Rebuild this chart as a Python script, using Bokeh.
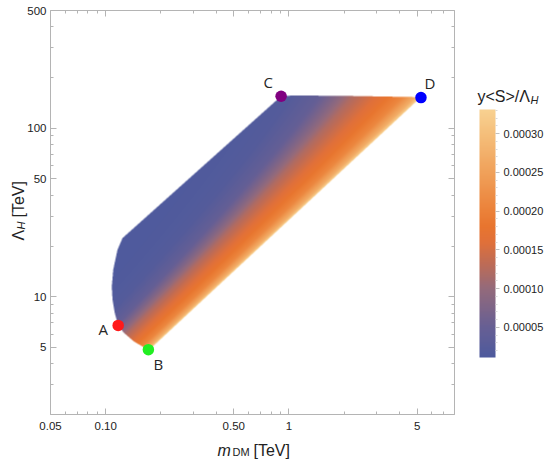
import numpy as np
from bokeh.plotting import figure
from bokeh.models import (LogAxis, FixedTicker, CustomJSTickFormatter, ColorBar, GridBox, Range1d,
                          LinearColorMapper, PrintfTickFormatter, ColumnDataSource)
from bokeh.core.properties import value
from bokeh.embed import file_html
from bokeh.resources import INLINE

# ---------------- data ----------------
x_lo, x_hi = 0.05, 8.0
y_lo, y_hi = 2.0, 500.0
x_major = [0.05, 0.1, 0.5, 1, 5]
x_minor = [0.06, 0.07, 0.08, 0.09, 0.2, 0.3, 0.4, 0.6, 0.7, 0.8, 0.9, 2, 3, 4, 6, 7, 8]
y_major = [5, 10, 50, 100, 500]
y_minor = [2, 3, 4, 6, 7, 8, 9, 20, 30, 40, 60, 70, 80, 90, 200, 300, 400]

cb_ticks = [0.00005, 0.00010, 0.00015, 0.00020, 0.00025, 0.00030]
cb_minor = [0.00002, 0.00003, 0.00004, 0.00006, 0.00007, 0.00008, 0.00009,
            0.00011, 0.00012, 0.00013, 0.00014, 0.00016, 0.00017, 0.00018, 0.00019,
            0.00021, 0.00022, 0.00023, 0.00024, 0.00026, 0.00027, 0.00028, 0.00029,
            0.00031, 0.00032, 0.00033]
value_low, value_high = 1.13e-5, 3.31e-4

# boundary of the allowed region (m_DM [TeV], Lambda_H [TeV]), C -> D -> B -> A -> back
region_m = [0.906, 1.06, 2.17, 5.25, 0.172, 0.1425, 0.1256, 0.117, 0.112, 0.109, 0.108, 0.110, 0.116, 0.1236]
region_lam = [155.0, 156.6, 155.5, 153.0, 4.81, 5.43, 6.11, 6.76, 8.04, 9.6, 11.5, 14.5, 19.0, 22.3]
edge_from, edge_to = 3, 4  # lower-right edge D -> B

# colour value vs. distance (decades in m_DM) from the lower-right edge, read near the top
profile_dist = [0.0, 0.03, 0.10, 0.18, 0.28, 0.38, 0.47, 0.56, 0.72, 1.0]
profile_value = [3.3e-4, 2.7e-4, 2.1e-4, 1.8e-4, 1.5e-4, 1.2e-4, 0.8e-4, 0.45e-4, 0.2e-4, 1.2e-5]
# the gradient is compressed towards the bottom of the region
steep_lam = [4.8, 153.0]
steep_factor = [1.8, 1.0]

point_names = ["A", "B", "C", "D"]
point_m = [0.117, 0.171, 0.906, 5.25]
point_lam = [6.76, 4.85, 155.0, 152.0]
point_colors = ["#ff1a1a", "#22ee22", "#800080", "#0000ff"]

# ---------------- styles ----------------
W, H = 554, 459
label_dx = [-15, 10, -13, 9]
label_dy = [4, 14, -14, -15]
frame_col = "#b4b4b4"
txt_col = "#222222"
FONT = "Liberation Sans"

stops = [(0.000, "#4e5a9d"), (0.121, "#675f94"), (0.277, "#946a7b"), (0.371, "#bb6b58"),
         (0.465, "#e0703a"), (0.528, "#e8752f"), (0.590, "#eb8139"), (0.747, "#f0a15a"),
         (0.903, "#f5bf7b"), (1.000, "#f8d191")]


def hex2rgb(h):
    return np.array([int(h[i:i + 2], 16) for i in (1, 3, 5)], float)


sf = np.array([s[0] for s in stops])
sc = np.array([hex2rgb(s[1]) for s in stops])
pal_rgb = np.array([[np.interp(tt, sf, sc[:, k]) for k in range(3)] for tt in np.linspace(0, 1, 256)])
palette = ["#%02x%02x%02x" % tuple(int(round(c)) for c in rgb) for rgb in pal_rgb]

# ---------------- field on the log grid ----------------
nx, ny, ss = 404, 404, 3
lx0, lx1 = np.log10(x_lo), np.log10(x_hi)
ly0, ly1 = np.log10(y_lo), np.log10(y_hi)
px = np.log10(region_m)
py = np.log10(region_lam)


def inside_poly(LX, LY):
    res = np.zeros(LX.shape, bool)
    n = len(px)
    j = n - 1
    for i in range(n):
        xi, yi, xj, yj = px[i], py[i], px[j], py[j]
        dy = (yj - yi) if yj != yi else 1e-12
        res ^= ((yi > LY) != (yj > LY)) & (LX < (xj - xi) * (LY - yi) / dy + xi)
        j = i
    return res


# coverage by 3x3 super-sampling (smooth edges)
fx = lx0 + (np.arange(nx * ss) + 0.5) / (nx * ss) * (lx1 - lx0)
fy = ly0 + (np.arange(ny * ss) + 0.5) / (ny * ss) * (ly1 - ly0)
FX, FY = np.meshgrid(fx, fy)
cover = inside_poly(FX, FY).reshape(ny, ss, nx, ss).mean(axis=(1, 3))

lxs = lx0 + (np.arange(nx) + 0.5) / nx * (lx1 - lx0)
lys = ly0 + (np.arange(ny) + 0.5) / ny * (ly1 - ly0)
LX, LY = np.meshgrid(lxs, lys)
bx, by = px[edge_to], py[edge_to]
dxe, dye = px[edge_from], py[edge_from]
lx_edge = bx + (LY - by) * (dxe - bx) / (dye - by)
dist = np.clip(lx_edge - LX, 0, None)
steep = np.interp(LY, np.log10(steep_lam), steep_factor)
val = np.interp(dist * steep, profile_dist, profile_value)

idx = np.clip(((val - value_low) / (value_high - value_low) * 255).round().astype(int), 0, 255)
rgba = np.zeros((ny, nx), dtype=np.uint32)
view = rgba.view(dtype=np.uint8).reshape((ny, nx, 4))
view[..., 0] = pal_rgb[idx, 0].round().astype(np.uint8)
view[..., 1] = pal_rgb[idx, 1].round().astype(np.uint8)
view[..., 2] = pal_rgb[idx, 2].round().astype(np.uint8)
view[..., 3] = (cover * 255).round().astype(np.uint8)

mapper = LinearColorMapper(palette=palette, low=value_low, high=value_high)

# ---------------- main figure ----------------
p = figure(x_axis_type="log", y_axis_type="log", x_range=(x_lo, x_hi), y_range=(y_lo, y_hi),
           width=W, height=H, min_border_left=50, min_border_right=100,
           min_border_top=10, min_border_bottom=45, output_backend="svg", toolbar_location=None)
p.grid.visible = False
p.outline_line_color = None
p.background_fill_color = "white"
p.border_fill_color = "white"

p.image_rgba(image=[rgba], x=x_lo, y=y_lo, dw=x_hi - x_lo, dh=y_hi - y_lo)

fmt = CustomJSTickFormatter(code="return tick < 1 ? tick.toFixed(2) : tick.toFixed(0);")


def style_axis(ax, major, minor, show):
    ax.ticker = FixedTicker(ticks=major, minor_ticks=minor)
    ax.formatter = fmt
    ax.axis_line_color = frame_col
    ax.major_tick_line_color = frame_col
    ax.minor_tick_line_color = frame_col
    ax.major_tick_in = 6
    ax.major_tick_out = 0
    ax.minor_tick_in = 3
    ax.minor_tick_out = 0
    ax.axis_label = None
    if show:
        ax.major_label_text_font = FONT
        ax.major_label_text_font_size = "11.5px"
        ax.major_label_text_color = txt_col
    else:
        ax.major_label_text_font_size = "0px"
        ax.major_label_text_color = None
        ax.major_label_standoff = 0


style_axis(p.xaxis[0], x_major, x_minor, True)
p.xaxis[0].major_label_standoff = 7
style_axis(p.yaxis[0], y_major, y_minor, True)
p.yaxis[0].major_label_standoff = 4

top = LogAxis()
style_axis(top, x_major, x_minor, False)
p.add_layout(top, "above")
right = LogAxis()
style_axis(right, y_major, y_minor, False)
p.add_layout(right, "right")

# points and letters
src = ColumnDataSource(dict(m=point_m, lam=point_lam, c=point_colors, name=point_names,
                            dx=label_dx, dy=label_dy))
p.scatter(x="m", y="lam", source=src, size=11.5, fill_color="c", line_color=None)
p.text(x="m", y="lam", text="name", source=src, x_offset="dx", y_offset="dy",
       text_align="center", text_baseline="middle", text_font_size="15px",
       text_font=value("Open Sans"), text_color="#262626")

# colour bar
cb = ColorBar(color_mapper=mapper, ticker=FixedTicker(ticks=cb_ticks, minor_ticks=cb_minor),
              formatter=PrintfTickFormatter(format="%.5f"), orientation="vertical",
              width=16, height=248, location=(429, 57), padding=0,
              major_tick_in=0, major_tick_out=4, minor_tick_in=0, minor_tick_out=2,
              major_tick_line_color="#c0c0c0", minor_tick_line_color="#d8d8d8",
              label_standoff=4, bar_line_color=None, background_fill_alpha=0,
              border_line_color=None,
              major_label_text_font=FONT, major_label_text_font_size="11px",
              major_label_text_color=txt_col)
p.add_layout(cb)

# ---------------- transparent overlay for the axis / colour-bar titles ----------------
t = figure(width=W, height=H, x_range=Range1d(0, W), y_range=Range1d(H, 0), min_border=0,
           x_axis_location=None, y_axis_location=None, output_backend="svg", toolbar_location=None)
t.grid.visible = False
t.outline_line_color = None
t.background_fill_alpha = 0
t.border_fill_alpha = 0
for fig in (p, t):
    if "frame_align" in fig.properties():
        fig.frame_align = False


def tx(text, x, y, size, style="normal", angle=0.0):
    t.text(x=[x], y=[y], text=[text], text_font=value(FONT), text_font_size=size,
           text_font_style=style, text_color=txt_col, text_align="left",
           text_baseline="alphabetic", angle=angle)


# x-axis title  m_DM [TeV]
tx("m", 217, 450, "16px", "italic")
tx("DM", 232, 451, "11px")
tx("[TeV]", 253, 450, "16px")
# y-axis title  Lambda_H [TeV]
tx("\u039b", 18, 240, "16px", angle=np.pi / 2)
tx("H", 20, 229, "11px", "italic", angle=np.pi / 2)
tx("[TeV]", 18, 217, "16px", angle=np.pi / 2)
# colour-bar title  y<S>/Lambda_H
tx("y<S>/\u039b", 477, 96, "16px")
tx("H", 530, 99, "11px", "italic")

layout = GridBox(children=[(p, 0, 0), (t, 0, 0)])
open("out.html", "w").write(file_html(layout, INLINE))
